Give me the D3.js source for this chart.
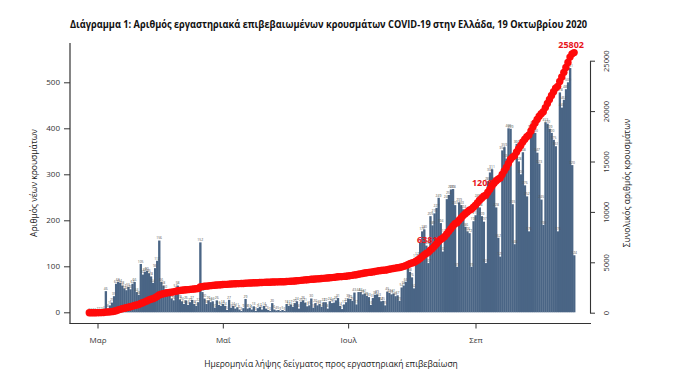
<!DOCTYPE html>
<html><head><meta charset="utf-8">
<script src="https://cdn.jsdelivr.net/npm/d3@7"></script>
<style>body{margin:0;background:#fff}svg{display:block}</style>
</head><body>
<script>
// ---------- DATA ----------
const startDate = "2020-02-26";
const dailyCases = [
  0,1,0,1,2,2,3,4, 46, 8,15,21,35, 62,66,64,
  58,52,48,55,50,62,66,44,38,
  105,82,88,90,85,78,64,
  96,112,156,
  66,58,50,42,36,30,26,52,58,
  28,24,18,26,16,22,27,18,14,22,
  152,
  44,30,18,26,22,
  24,10,26,16,14,18,
  14,5,27,10,14,8,11, 6,3,9,29,8,10,6, 13,3,9,12,6,14,8, 5,3,20,6,4,5,3, 5,3,18,
  14,17,12,20,24,8, 23,26,21,13,15,30,10, 20,15,18,12,22,22,8, 24,20,21,26,31,14,7, 17,22,
  30,29,25,43,17, 44,44,39,41,36,33,16, 31,38,39,33,24,25,15, 45,42,39,41,35,37,25, 54,58,66,100,88,76,
  52,117,123,151,176,180,145, 107,209,189,215,227,249,194, 132,172,246,255,267,268,233, 99,239,233,224,186,176,172, 99,198,211,
  249,228,209,197,107, 285,304,311,285,228,162,121, 352,359,334,400,399,235,148, 366,328,300,348,276,252,176,
  399,407,390,347,323,245,190, 413,410,399,390,375,361,176,
  478,445,462,485,500,531,320,124
];
const leftTicks = [0,100,200,300,400,500];
const rightTicks = [0,5000,10000,15000,20000,25000];
const monthTickDates = ["2020-03-01","2020-05-01","2020-07-01","2020-09-01"];
const monthLabels = ["Μαρ","Μαΐ","Ιουλ","Σεπ"];
const annotDates = ["2020-08-10","2020-09-07","2020-10-19"];
const annotValues = [6381, 12080, 25802];

const titleText = "Διάγραμμα 1: Αριθμός εργαστηριακά επιβεβαιωμένων κρουσμάτων COVID-19 στην Ελλάδα, 19 Οκτωβρίου 2020";
const leftTitle = "Αριθμός νέων κρουσμάτων";
const rightTitle = "Συνολικός αριθμός κρουσμάτων";
const xTitle = "Ημερομηνία λήψης δείγματος προς εργαστηριακή επιβεβαίωση";

// ---------- CHART ----------
const W = 691, H = 376;
const FONT = "'Open Sans', 'DejaVu Sans', sans-serif";
const svg = d3.select("body").append("svg").attr("width", W).attr("height", H)
  .style("font-family", FONT);

const parse = d3.utcParse("%Y-%m-%d");
const start = parse(startDate);
const days = dailyCases.map((_, i) => d3.utcDay.offset(start, i));
const cumulative = Array.from(d3.cumsum(dailyCases));

const x = d3.scaleUtc().domain([parse("2020-03-01"), parse("2020-09-01")]).range([97.5, 475.5]);
const yL = d3.scaleLinear().domain([0, 500]).range([312.3, 82.3]);
const yR = d3.scaleLinear().domain([0, 25000]).range([312.7, 60.7]);
const bw = x(days[1]) - x(days[0]);

svg.append("text").attr("x", 70).attr("y", 28)
  .attr("font-size", 11).attr("font-weight", "bold").attr("fill", "#111")
  .attr("textLength", 517).attr("lengthAdjust", "spacingAndGlyphs")
  .style("font-family", "'Liberation Sans Narrow', 'Open Sans', sans-serif")
  .text(titleText);

svg.append("g").selectAll("rect").data(dailyCases).join("rect")
  .attr("x", (d, i) => x(days[i]) - bw / 2)
  .attr("width", bw + 0.3)
  .attr("y", d => yL(d))
  .attr("height", d => yL(0) - yL(d))
  .attr("fill", "#4a6585");

svg.append("g").selectAll("text").data(dailyCases).join("text")
  .attr("x", (d, i) => x(days[i]))
  .attr("y", d => yL(d) - 1.2)
  .attr("text-anchor", "middle")
  .attr("font-size", 3.4)
  .attr("fill", "#555")
  .text(d => d);

svg.append("g").selectAll("text").data(annotValues).join("text")
  .attr("x", (d, i) => x(parse(annotDates[i])) - 3)
  .attr("y", d => yR(d) - 5)
  .attr("text-anchor", "middle")
  .attr("font-size", 9).attr("font-weight", "bold")
  .attr("fill", "#e8141b")
  .text(d => d);

svg.append("g").selectAll("circle").data(cumulative).join("circle")
  .attr("cx", (d, i) => x(days[i]))
  .attr("cy", d => yR(d))
  .attr("r", 3.7)
  .attr("fill", "#ff0a0a");

const axisColor = "#333";
const gL = svg.append("g").attr("transform", "translate(70,0)")
  .call(d3.axisLeft(yL).tickValues(leftTicks).tickSize(6).tickPadding(4));
gL.select(".domain").remove();
gL.selectAll("line").attr("stroke", axisColor);
gL.selectAll("text").attr("font-size", 8).attr("fill", "#333").style("font-family", FONT);

svg.append("line").attr("x1", 70).attr("x2", 70).attr("y1", 43).attr("y2", 323.5)
  .attr("stroke", axisColor).attr("stroke-width", 1.2);
svg.append("line").attr("x1", 69.4).attr("x2", 591).attr("y1", 323.5).attr("y2", 323.5)
  .attr("stroke", axisColor).attr("stroke-width", 1.2);

const gB = svg.append("g").attr("transform", "translate(0,323.5)")
  .call(d3.axisBottom(x).tickValues(monthTickDates.map(parse))
    .tickFormat((d, i) => monthLabels[i]).tickSize(5).tickPadding(9));
gB.select(".domain").remove();
gB.selectAll("line").attr("stroke", axisColor);
gB.selectAll("text").attr("font-size", 8).attr("fill", "#333").style("font-family", FONT);

const gR = svg.append("g").attr("transform", "translate(590,0)")
  .call(d3.axisRight(yR).tickValues(rightTicks).tickSize(5).tickSizeOuter(0).tickFormat(d3.format("d")));
gR.select(".domain").attr("stroke", axisColor).attr("stroke-width", 1.1);
gR.selectAll("line").attr("stroke", axisColor);
gR.selectAll("text")
  .attr("x", 0).attr("dy", null).attr("text-anchor", "middle")
  .attr("transform", "translate(18.5,0) rotate(-90)")
  .attr("font-size", 7.5).attr("fill", "#333").style("font-family", FONT);

svg.append("text").attr("transform", "translate(37,183) rotate(-90)")
  .attr("text-anchor", "middle").attr("font-size", 8.5).attr("fill", "#222")
  .text(leftTitle);
svg.append("text").attr("transform", "translate(629.5,183) rotate(-90)")
  .attr("text-anchor", "middle").attr("font-size", 8.5).attr("fill", "#222")
  .text(rightTitle);
svg.append("text").attr("x", 331).attr("y", 367)
  .attr("text-anchor", "middle").attr("font-size", 8.5).attr("fill", "#222")
  .text(xTitle);
</script>
</body></html>
